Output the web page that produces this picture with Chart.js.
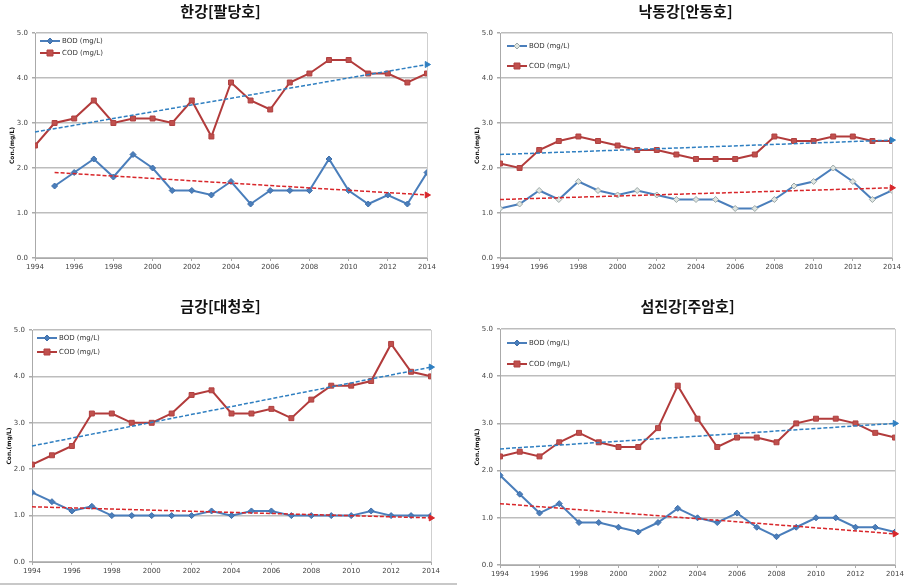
<!DOCTYPE html>
<html>
<head>
<meta charset="utf-8">
<script src="https://cdn.jsdelivr.net/npm/chart.js@4.4.1/dist/chart.umd.min.js"></script>
<style>
  body { margin: 0; background: #fff; }
  #wrap { position: relative; width: 914px; height: 585px; overflow: hidden; }
  .panel { position: absolute; }
  .panel canvas { position: absolute; left: 0; top: 0; }
  .title {
    position: absolute; left: 0; width: 100%; text-align: center;
    font-family: "Noto Sans CJK KR", sans-serif; font-weight: bold; font-size: 15px; color: #111;
  }
  #bottomLine { position: absolute; left: 0; top: 583px; width: 457px; height: 2px; background: #c8c8c8; }
</style>
</head>
<body>
<div id="wrap">
  <div class="panel" id="p1" style="left:0;top:0;width:457px;height:290px;">
    <canvas id="c1" width="457" height="290"></canvas>
    <div class="title" style="top:0px;margin-left:-8px;">한강[팔당호]</div>
  </div>
  <div class="panel" id="p2" style="left:457px;top:0;width:457px;height:290px;">
    <canvas id="c2" width="457" height="290"></canvas>
    <div class="title" style="top:0px;margin-left:0px;">낙동강[안동호]</div>
  </div>
  <div class="panel" id="p3" style="left:0;top:290px;width:457px;height:295px;">
    <canvas id="c3" width="457" height="295"></canvas>
    <div class="title" style="top:5px;margin-left:-8px;">금강[대청호]</div>
  </div>
  <div class="panel" id="p4" style="left:457px;top:290px;width:457px;height:295px;">
    <canvas id="c4" width="457" height="295"></canvas>
    <div class="title" style="top:5px;margin-left:2px;">섬진강[주암호]</div>
  </div>
  <div id="bottomLine"></div>
</div>
<script>
// years on the x axis
const years = [1994, 1995, 1996, 1997, 1998, 1999, 2000, 2001, 2002, 2003, 2004,
  2005, 2006, 2007, 2008, 2009, 2010, 2011, 2012, 2013, 2014];
const yearTicks = [1994, 1996, 1998, 2000, 2002, 2004, 2006, 2008, 2010, 2012, 2014];
const concTicks = [0, 1, 2, 3, 4, 5];

// 한강[팔당호]
const bodHan = [null, 1.6, 1.9, 2.2, 1.8, 2.3, 2.0, 1.5, 1.5, 1.4, 1.7, 1.2, 1.5, 1.5, 1.5, 2.2, 1.5, 1.2, 1.4, 1.2, 1.9];
const codHan = [2.5, 3.0, 3.1, 3.5, 3.0, 3.1, 3.1, 3.0, 3.5, 2.7, 3.9, 3.5, 3.3, 3.9, 4.1, 4.4, 4.4, 4.1, 4.1, 3.9, 4.1];
const bodTrendHan = [[1995, 1.9], [2014, 1.4]];
const codTrendHan = [[1994, 2.8], [2014, 4.3]];

// 낙동강[안동호]
const bodNak = [1.1, 1.2, 1.5, 1.3, 1.7, 1.5, 1.4, 1.5, 1.4, 1.3, 1.3, 1.3, 1.1, 1.1, 1.3, 1.6, 1.7, 2.0, 1.7, 1.3, 1.5];
const codNak = [2.1, 2.0, 2.4, 2.6, 2.7, 2.6, 2.5, 2.4, 2.4, 2.3, 2.2, 2.2, 2.2, 2.3, 2.7, 2.6, 2.6, 2.7, 2.7, 2.6, 2.6];
const bodTrendNak = [[1994, 1.3], [2014, 1.56]];
const codTrendNak = [[1994, 2.3], [2014, 2.62]];

// 금강[대청호]
const bodGeum = [1.5, 1.3, 1.1, 1.2, 1.0, 1.0, 1.0, 1.0, 1.0, 1.1, 1.0, 1.1, 1.1, 1.0, 1.0, 1.0, 1.0, 1.1, 1.0, 1.0, 1.0];
const codGeum = [2.1, 2.3, 2.5, 3.2, 3.2, 3.0, 3.0, 3.2, 3.6, 3.7, 3.2, 3.2, 3.3, 3.1, 3.5, 3.8, 3.8, 3.9, 4.7, 4.1, 4.0];
const bodTrendGeum = [[1994, 1.19], [2014, 0.95]];
const codTrendGeum = [[1994, 2.5], [2014, 4.2]];

// 섬진강[주암호]
const bodSeom = [1.9, 1.5, 1.1, 1.3, 0.9, 0.9, 0.8, 0.7, 0.9, 1.2, 1.0, 0.9, 1.1, 0.8, 0.6, 0.8, 1.0, 1.0, 0.8, 0.8, 0.7];
const codSeom = [2.3, 2.4, 2.3, 2.6, 2.8, 2.6, 2.5, 2.5, 2.9, 3.8, 3.1, 2.5, 2.7, 2.7, 2.6, 3.0, 3.1, 3.1, 3.0, 2.8, 2.7];
const bodTrendSeom = [[1994, 1.3], [2014, 0.66]];
const codTrendSeom = [[1994, 2.46], [2014, 3.0]];

const bodLabel = "BOD (mg/L)";
const codLabel = "COD (mg/L)";

// legend drawn inside the plot area, Excel style
const excelLegend = {
  id: "excelLegend",
  afterDraw(chart, args, opts) {
    const ctx = chart.ctx;
    const a = chart.chartArea;
    const x0 = a.left + opts.dx;
    const rows = [
      { y: a.top + opts.y1, text: bodLabel, color: "#4a7ebb", marker: "diamond", fill: opts.bodFill, stroke: opts.bodStroke },
      { y: a.top + opts.y2, text: codLabel, color: "#b23b3b", marker: "square", fill: "#c0504d", stroke: "#b04040" },
    ];
    ctx.save();
    rows.forEach((r) => {
      ctx.strokeStyle = r.color;
      ctx.lineWidth = 2;
      ctx.beginPath();
      ctx.moveTo(x0, r.y);
      ctx.lineTo(x0 + 20, r.y);
      ctx.stroke();
      ctx.fillStyle = r.fill;
      ctx.strokeStyle = r.stroke;
      ctx.lineWidth = 1;
      const cx = x0 + 10;
      ctx.beginPath();
      if (r.marker === "diamond") {
        ctx.moveTo(cx, r.y - 3); ctx.lineTo(cx + 3, r.y); ctx.lineTo(cx, r.y + 3); ctx.lineTo(cx - 3, r.y);
        ctx.closePath();
      } else {
        ctx.rect(cx - 3, r.y - 3, 6, 6);
      }
      ctx.fill();
      ctx.stroke();
      ctx.fillStyle = "#333";
      ctx.font = "7px 'DejaVu Sans', sans-serif";
      ctx.textBaseline = "middle";
      ctx.fillText(r.text, x0 + 22, r.y);
    });
    ctx.restore();
  },
};

function toPoints(vals) {
  return years.map((yr, i) => ({ x: yr, y: vals[i] }));
}

function trend(pair, color) {
  return {
    data: pair.map((p) => ({ x: p[0], y: p[1] })),
    borderColor: color,
    borderWidth: 1.5,
    borderDash: [4, 2],
    clip: false,
    pointStyle: "triangle",
    pointRotation: 90,
    pointRadius: [0, 3.5],
    pointBorderWidth: 1,
    pointBackgroundColor: color,
    pointBorderColor: color,
    order: 0,
  };
}

function makeChart(id, bod, cod, bodTrend, codTrend, lay) {
  new Chart(document.getElementById(id), {
    type: "line",
    data: {
      datasets: [
        trend(codTrend, "#2f7fc1"),
        trend(bodTrend, "#d8262a"),
        {
          label: bodLabel,
          data: toPoints(bod),
          borderColor: "#4a7ebb",
          borderWidth: 2,
          pointStyle: "rectRot",
          pointRadius: 3,
          pointBackgroundColor: lay.bodFill,
          pointBorderColor: lay.bodStroke,
          pointBorderWidth: 1,
          order: 2,
        },
        {
          label: codLabel,
          data: toPoints(cod),
          borderColor: "#b23b3b",
          borderWidth: 2,
          pointStyle: "rect",
          pointRadius: 3.5,
          pointBackgroundColor: "#c0504d",
          pointBorderColor: "#b04040",
          pointBorderWidth: 1,
          order: 1,
        },
      ],
    },
    options: {
      responsive: false,
      animation: false,
      layout: { padding: { left: 0, right: lay.right, top: lay.top, bottom: 0 } },
      plugins: {
        legend: { display: false },
        tooltip: { enabled: false },
        excelLegend: { dx: lay.dx, y1: lay.y1, y2: lay.y2, bodFill: lay.bodFill, bodStroke: lay.bodStroke },
      },
      scales: {
        x: {
          type: "linear",
          min: years[0],
          max: years[years.length - 1],
          afterBuildTicks: (s) => { s.ticks = yearTicks.map((v) => ({ value: v })); },
          afterFit: (s) => { s.height = lay.bottom; },
          ticks: {
            callback: (v) => String(v),
            color: "#444",
            font: { family: "'DejaVu Sans', sans-serif", size: 7 },
            maxRotation: 0,
            padding: 2,
          },
          grid: {
            color: (c) => (c.tick && c.tick.value === 2014 ? "#cfcfcf" : "rgba(0,0,0,0)"),
            tickColor: "#aaa",
            tickLength: 3,
          },
          border: { color: "#aaa", width: 1 },
        },
        y: {
          min: 0,
          max: 5,
          afterBuildTicks: (s) => { s.ticks = concTicks.map((v) => ({ value: v })); },
          afterFit: (s) => { s.width = lay.left; },
          ticks: {
            callback: (v) => v.toFixed(1),
            color: "#444",
            font: { family: "'DejaVu Sans', sans-serif", size: 7 },
            padding: 4,
          },
          grid: { color: "#bdbdbd", lineWidth: 1.5, tickLength: 3, tickColor: "#aaa" },
          border: { color: "#aaa", width: 1 },
          title: {
            display: true,
            text: "Con.(mg/L)",
            color: "#111",
            font: { family: "'DejaVu Sans', sans-serif", size: 6, weight: "bold" },
            padding: { top: lay.titlePad, bottom: 0 },
          },
        },
      },
    },
    plugins: [excelLegend],
  });
}

makeChart("c1", bodHan, codHan, bodTrendHan, codTrendHan,
  { left: 35, right: 30, top: 33, bottom: 32, dx: 5, y1: 8, y2: 20, titlePad: 9, bodFill: "#4a7ebb", bodStroke: "#3f6faa" });
makeChart("c2", bodNak, codNak, bodTrendNak, codTrendNak,
  { left: 43, right: 22, top: 33, bottom: 32, dx: 7, y1: 13, y2: 33, titlePad: 17, bodFill: "#dfe6e2", bodStroke: "#9aa6a6" });
makeChart("c3", bodGeum, codGeum, bodTrendGeum, codTrendGeum,
  { left: 32, right: 26, top: 40, bottom: 23, dx: 5, y1: 8, y2: 22, titlePad: 6, bodFill: "#4a7ebb", bodStroke: "#3f6faa" });
makeChart("c4", bodSeom, codSeom, bodTrendSeom, codTrendSeom,
  { left: 43, right: 19, top: 39, bottom: 20, dx: 7, y1: 14, y2: 35, titlePad: 17, bodFill: "#4a7ebb", bodStroke: "#3f6faa" });
</script>
</body>
</html>
